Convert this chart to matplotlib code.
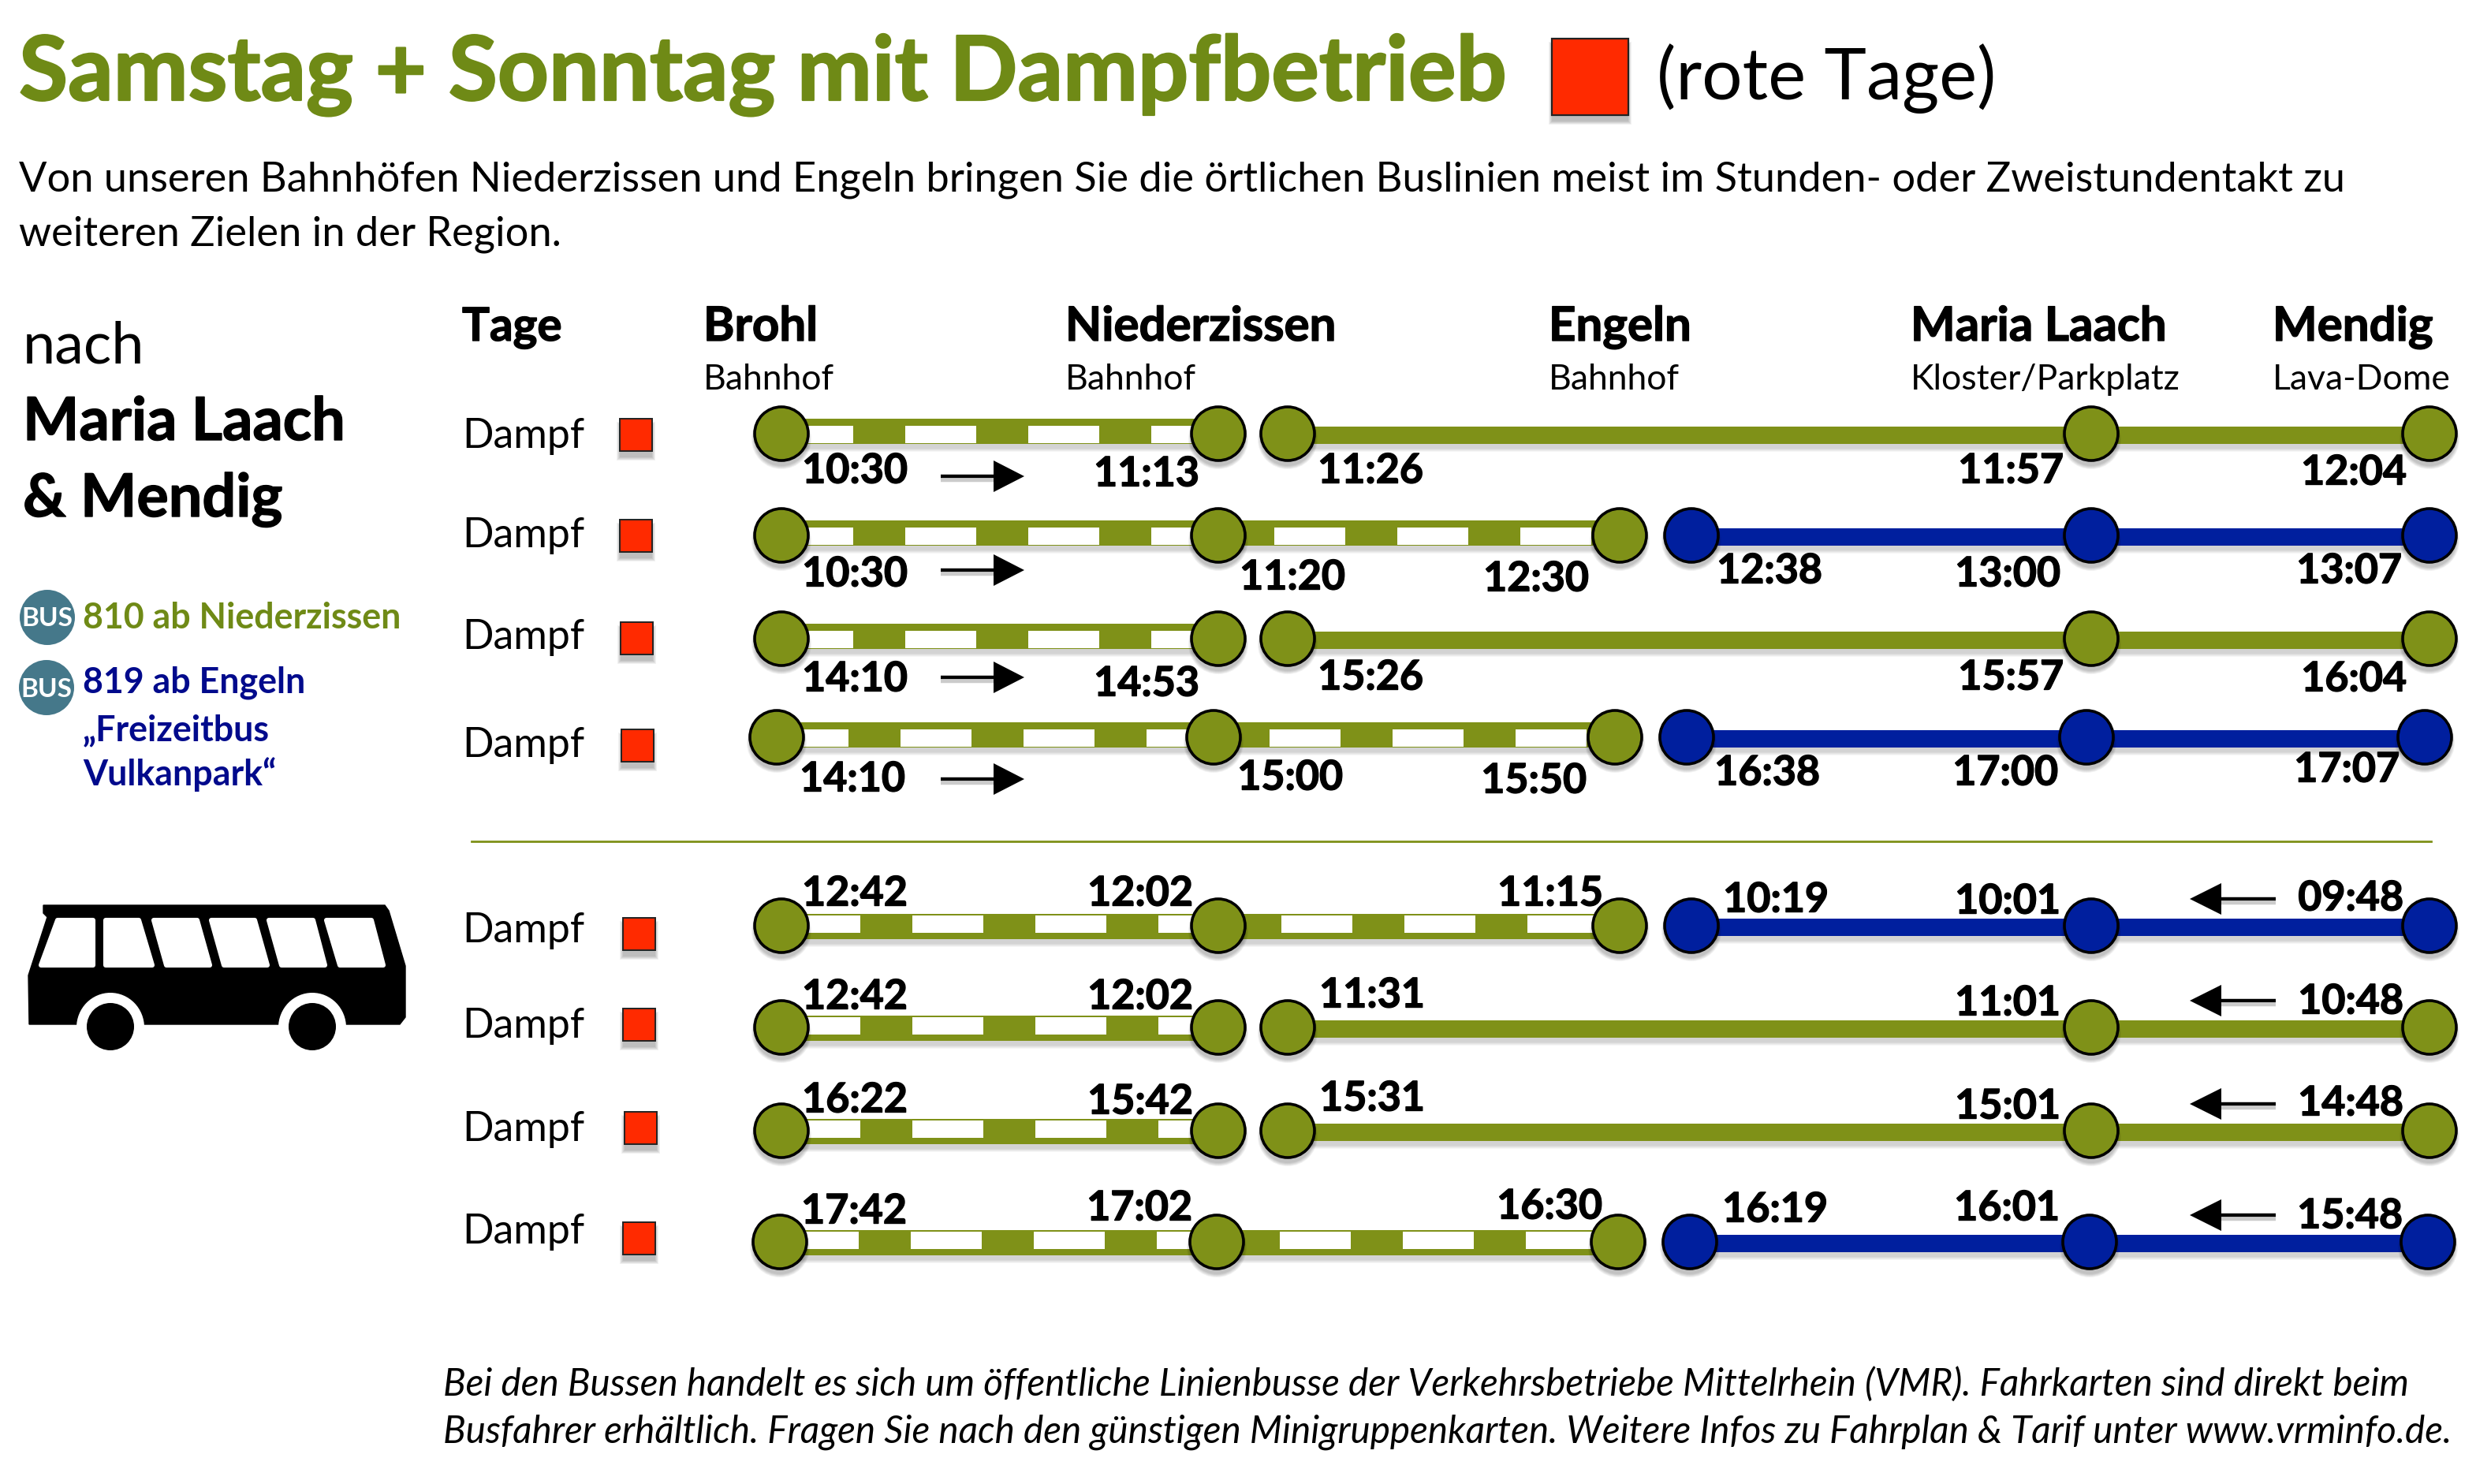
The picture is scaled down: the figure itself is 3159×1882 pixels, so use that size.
import numpy as np
import matplotlib
matplotlib.use("Agg")
import matplotlib.pyplot as plt
import matplotlib.patheffects as pe
from matplotlib.patches import Circle, Rectangle, Polygon, Ellipse

plt.rcParams['font.family'] = ['Lato', 'DejaVu Sans']

# --- data ---
TITLE = "Samstag + Sonntag mit Dampfbetrieb"
INTRO = ["Von unseren Bahnhöfen Niederzissen und Engeln bringen Sie die örtlichen Buslinien meist im Stunden- oder Zweistundentakt zu",
         "weiteren Zielen in der Region."]
STATIONS = ["Brohl", "Niederzissen", "Engeln", "Maria Laach", "Mendig"]
STATION_SUB = ["Bahnhof", "Bahnhof", "Bahnhof", "Kloster/Parkplatz", "Lava-Dome"]
FOOTER = ["Bei den Bussen handelt es sich um öffentliche Linienbusse der Verkehrsbetriebe Mittelrhein (VMR). Fahrkarten sind direkt beim",
          "Busfahrer erhältlich. Fragen Sie nach den günstigen Minigruppenkarten. Weitere Infos zu Fahrplan & Tarif unter www.vrminfo.de."]

TIMES_OUT = [
    ["10:30", "11:13", "11:26", "11:57", "12:04"],
    ["10:30", "11:20", "12:30", "12:38", "13:00", "13:07"],
    ["14:10", "14:53", "15:26", "15:57", "16:04"],
    ["14:10", "15:00", "15:50", "16:38", "17:00", "17:07"],
]
TIMES_BACK = [
    ["12:42", "12:02", "11:15", "10:19", "10:01", "09:48"],
    ["12:42", "12:02", "11:31", "11:01", "10:48"],
    ["16:22", "15:42", "15:31", "15:01", "14:48"],
    ["17:42", "17:02", "16:30", "16:19", "16:01", "15:48"],
]

# --- layout, all in target pixels ---
W, H = 3159, 1882
GREEN = "#7f9118"
TITLE_GREEN = "#6f8a16"
BLUE = "#001f9e"
NAVY = "#000a8c"
RED = "#ff2a00"
TEAL = "#45788a"

STOP_X_5 = [991, 1545, 1633, 2652, 3081]
STOP_X_6 = [991, 1545, 2054, 2145, 2652, 3081]
ROW_Y_OUT = [550, 679, 810, 935]
ROW_Y_BACK = [1174, 1303, 1434, 1575]
ROW_DX_OUT = [0, 0, 0, -6]
ROW_DX_BACK = [0, 0, 0, -2]
SQUARE_X_OUT = [786, 786, 787, 788]
SQUARE_Y_OUT = [531, 659, 789, 925]
SQUARE_X_BACK = [790, 790, 792, 790]
SQUARE_Y_BACK = [1164, 1279, 1410, 1550]
DAMPF_Y_OUT = [568, 694, 823, 960]
DAMPF_Y_BACK = [1195, 1316, 1447, 1577]
ARROW_DY_OUT = [54, 44, 49, 53]
ARROW_DY_BACK = [-34, -34, -34, -34]

LABEL_X_OUT_5 = [1084, 1454, 1738, 2550, 2985]
LABEL_X_OUT_6 = [1084, 1639, 1948, 2244, 2546, 2979]
LABEL_X_BACK_5 = [1084, 1446, 1740, 2546, 2981]
LABEL_X_BACK_6 = [1084, 1446, 1966, 2252, 2546, 2981]
LABEL_DY_OUT = [[48, 52, 48, 48, 50], [50, 54, 56, 46, 50, 46],
                [52, 58, 50, 50, 52], [54, 52, 56, 46, 46, 42]]
LABEL_DY_BACK = [[-40, -40, -40, -32, -30, -34], [-38, -38, -40, -30, -32],
                 [-38, -36, -40, -30, -34], [-38, -42, -44, -40, -42, -32]]

# slight extra weight, the original face is darker than Lato Bold
HEAVY = [pe.withStroke(linewidth=0.5, foreground="black")]

fig = plt.figure(figsize=(W / 200, H / 200), dpi=200)
ax = fig.add_axes([0, 0, 1, 1])
ax.set_xlim(0, W)
ax.set_ylim(H, 0)
ax.axis("off")


def shadow_rect(x, y, w, h, z, drop=6, alpha=0.055):
    for k in range(5):
        ax.add_patch(Rectangle((x - k, y + drop - k + 2), w + 2 * k, h + 2 * k, fc="black", ec="none",
                               alpha=alpha, zorder=z))


def bar(x0, x1, y, h, color, z=3):
    shadow_rect(x0, y - h / 2, x1 - x0, h, z - 1, drop=4, alpha=0.035)
    ax.add_patch(Rectangle((x0, y - h / 2), x1 - x0, h, fc=color, ec="none", zorder=z))


def dashed_bar(x0, x1, y, start, white_top):
    bar(x0, x1, y, 32, GREEN)
    for xs in np.arange(start, x1, 156):
        xe = min(xs + 90, x1)
        ax.add_patch(Rectangle((xs, y - 16 + white_top), xe - xs, 22, fc="white", ec="none", zorder=4))


def stop(x, y, color):
    for k in range(5):
        ax.add_patch(Circle((x, y + 7), 35 + k - 1, fc="black", ec="none", alpha=0.05, zorder=5))
    ax.add_patch(Circle((x, y), 34, fc=color, ec="black", lw=1.3, zorder=6))


def red_square(x, y, size, lw=0.7):
    shadow_rect(x, y, size, size, 2)
    ax.add_patch(Rectangle((x, y), size, size, fc=RED, ec="#222222", lw=lw, zorder=3))


def arrow(x_from, x_neck, x_tip, y):
    ax.plot([x_from, x_neck], [y + 5, y + 5], color="#999999", lw=1.6, alpha=0.5, zorder=2, solid_capstyle="butt")
    ax.plot([x_from, x_neck], [y, y], color="black", lw=1.6, zorder=3, solid_capstyle="butt")
    ax.add_patch(Polygon([(x_neck, y - 20), (x_neck, y + 20), (x_tip, y)], fc="black", ec="none", zorder=3))


def draw_row(times, y, dx, label_x, label_dy, white_top, start, bar_dy):
    n = len(times)
    xs = [v + dx for v in (STOP_X_5 if n == 5 else STOP_X_6)]
    if n == 5:
        dashed_bar(xs[0], xs[1], y + bar_dy, xs[0] + start, white_top)
        bar(xs[2], xs[4], y + 2, 22, GREEN)
        colors = [GREEN] * 5
    else:
        dashed_bar(xs[0], xs[2], y + bar_dy, xs[0] + start, white_top)
        bar(xs[3], xs[5], y + 2, 22, BLUE)
        colors = [GREEN] * 3 + [BLUE] * 3
    for x, c in zip(xs, colors):
        stop(x, y, c)
    for t, lx, ly in zip(times, label_x, label_dy):
        ax.text(lx + dx / 2, y + ly, t, fontsize=18.7, fontweight="bold", ha="center", va="center", zorder=8,
                path_effects=HEAVY)


# header
ax.text(24, 127, TITLE, fontsize=40.8, fontweight="bold", color=TITLE_GREEN, va="baseline",
        path_effects=[pe.withStroke(linewidth=0.8, foreground=TITLE_GREEN)])
red_square(1968, 49, 97, lw=0.8)
ax.text(2101, 126, "(rote Tage)", fontsize=32.7, va="baseline")
ax.text(24, 242, INTRO[0], fontsize=18.88, va="baseline")
ax.text(24, 311, INTRO[1], fontsize=18.88, va="baseline")

# left column
ax.text(29, 460, "nach", fontsize=26.6, va="baseline")
ax.text(29, 558, "Maria Laach", fontsize=27.2, fontweight="bold", va="baseline", path_effects=HEAVY)
ax.text(29, 655, "& Mendig", fontsize=27.2, fontweight="bold", va="baseline", path_effects=HEAVY)

ax.add_patch(Circle((60, 783), 35, fc=TEAL, ec="none"))
ax.add_patch(Circle((59, 872), 35, fc=TEAL, ec="none"))
ax.text(60, 785, "BUS", color="white", fontsize=12, fontweight="bold", ha="center", va="center")
ax.text(59, 874, "BUS", color="white", fontsize=12, fontweight="bold", ha="center", va="center")
ax.text(105, 797, "810 ab Niederzissen", color=TITLE_GREEN, fontsize=16.1, fontweight="bold", va="baseline")
ax.text(105, 878, "819 ab Engeln", color=NAVY, fontsize=16.1, fontweight="bold", va="baseline")
ax.text(105, 939, "„Freizeitbus", color=NAVY, fontsize=16.1, fontweight="bold", va="baseline")
ax.text(105, 996, "Vulkanpark“", color=NAVY, fontsize=16.1, fontweight="bold", va="baseline")

# bus pictogram
ax.add_patch(Polygon([(55, 1148), (488, 1148), (493, 1155), (514, 1225), (514, 1290), (507, 1299),
                      (37, 1299), (36, 1237), (60, 1163), (55, 1158)], fc="black", ec="black", lw=0.5))
for lo, hi, lo2, hi2 in [(73, 118, 52, 118), (134, 176, 134, 193), (195, 250, 211, 266),
                         (268, 323, 284, 339), (341, 397, 357, 412), (414, 471, 431, 486)]:
    ax.add_patch(Polygon([(lo, 1167), (hi, 1167), (hi2, 1224), (lo2, 1224)], fc="white", ec="white",
                         lw=2.2, joinstyle="round"))
for wx in [140, 396]:
    ax.add_patch(Ellipse((wx, 1303), 86, 88, fc="white", ec="none", zorder=2))
    ax.add_patch(Circle((wx, 1302), 30, fc="black", ec="none", zorder=3))

# table header
ax.text(586, 432, "Tage", fontsize=21, fontweight="bold", va="baseline", path_effects=HEAVY)
for name, sub, x in zip(STATIONS, STATION_SUB, [892, 1351, 1964, 2423, 2882]):
    ax.text(x, 432, name, fontsize=21.6, fontweight="bold", va="baseline", path_effects=HEAVY)
    ax.text(x, 494, sub, fontsize=16, va="baseline")

# outbound rows
for i, times in enumerate(TIMES_OUT):
    five = len(times) == 5
    draw_row(times, ROW_Y_OUT[i], ROW_DX_OUT[i], LABEL_X_OUT_5 if five else LABEL_X_OUT_6,
             LABEL_DY_OUT[i], 9, 1, -3)
    ax.text(586, DAMPF_Y_OUT[i], "Dampf", fontsize=18.7, va="baseline")
    red_square(SQUARE_X_OUT[i], SQUARE_Y_OUT[i], 41)
    arrow(1193, 1260, 1299, ROW_Y_OUT[i] + ARROW_DY_OUT[i])

ax.plot([598, 3083], [1067, 1067], color=GREEN, lw=1.0)

# return rows
for i, times in enumerate(TIMES_BACK):
    five = len(times) == 5
    draw_row(times, ROW_Y_BACK[i], ROW_DX_BACK[i], LABEL_X_BACK_5 if five else LABEL_X_BACK_6,
             LABEL_DY_BACK[i], 2, 10, 1)
    ax.text(586, DAMPF_Y_BACK[i], "Dampf", fontsize=18.7, va="baseline")
    red_square(SQUARE_X_BACK[i], SQUARE_Y_BACK[i], 41)
    arrow(2886, 2817, 2777, ROW_Y_BACK[i] + ARROW_DY_BACK[i])

# footer
ax.text(562, 1770, FOOTER[0], fontsize=17.15, fontstyle="italic", va="baseline")
ax.text(562, 1830, FOOTER[1], fontsize=17.15, fontstyle="italic", va="baseline")

fig.savefig("out.png", dpi=200, facecolor="white")
